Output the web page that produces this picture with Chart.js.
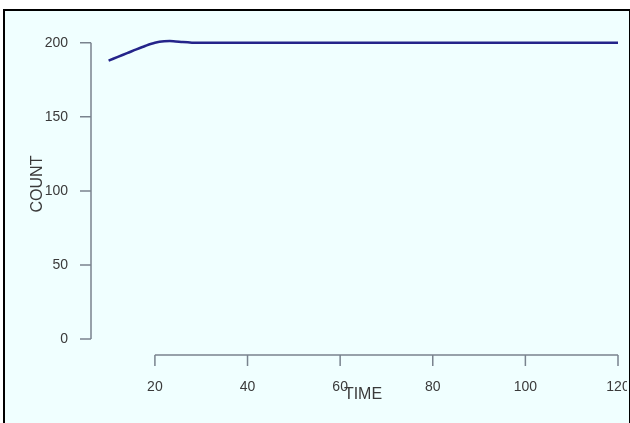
<!DOCTYPE html>
<html>
<head>
<meta charset="utf-8">
<script src="https://cdn.jsdelivr.net/npm/chart.js@4"></script>
<style>
  html, body { margin: 0; padding: 0; background: #ffffff; }
  #frame, #edge {
    position: absolute; left: 3px; top: 9px; width: 624px; height: 420px;
    border: 2px solid #000; border-bottom: none;
  }
  #frame { background: #f0ffff; }
  #edge { background: transparent; pointer-events: none; }
  #wrap { position: absolute; left: 0; top: 0; width: 627px; height: 423px; overflow: hidden; }
</style>
</head>
<body>
<div id="frame"></div>
<div id="wrap"><canvas id="chart" width="630" height="423"></canvas></div>
<div id="edge"></div>
<script>
// data
const times  = [10, 12, 14, 16, 18, 20, 22, 24, 26, 28, 30, 40, 50, 60, 70, 80, 90, 100, 110, 120];
const counts = [188, 190.5, 193, 195.6, 198, 200, 201, 201.1, 200.5, 200.1, 200, 200, 200, 200, 200, 200, 200, 200, 200, 200];
const xTicks = [20, 40, 60, 80, 100, 120];
const yTicks = [0, 50, 100, 150, 200];

const axisColor = '#79838e';
const textColor = '#3a3a3a';
const fontFamily = '"Liberation Sans", Arial, sans-serif';

// R-style detached axes + titles
const axesPlugin = {
    id: 'rAxes',
    afterDraw(chart) {
        const { ctx, chartArea, scales } = chart;
        const x = scales.x, y = scales.y;
        ctx.save();
        ctx.strokeStyle = axisColor;
        ctx.lineWidth = 1.5;

        // y axis
        const yl = chartArea.left;
        ctx.beginPath();
        ctx.moveTo(yl, y.getPixelForValue(yTicks[0]));
        ctx.lineTo(yl, y.getPixelForValue(yTicks[yTicks.length - 1]));
        yTicks.forEach(v => {
            const py = y.getPixelForValue(v);
            ctx.moveTo(yl, py);
            ctx.lineTo(yl - 11, py);
        });
        ctx.stroke();

        // x axis
        const xb = chartArea.bottom;
        ctx.beginPath();
        ctx.moveTo(x.getPixelForValue(xTicks[0]), xb);
        ctx.lineTo(x.getPixelForValue(xTicks[xTicks.length - 1]), xb);
        xTicks.forEach(v => {
            const px = x.getPixelForValue(v);
            ctx.moveTo(px, xb);
            ctx.lineTo(px, xb + 11);
        });
        ctx.stroke();

        // titles
        ctx.fillStyle = textColor;
        ctx.font = '16px ' + fontFamily;
        ctx.textAlign = 'center';
        ctx.textBaseline = 'middle';
        ctx.fillText('TIME', 363, 395);
        ctx.translate(38, 184);
        ctx.rotate(-Math.PI / 2);
        ctx.fillText('COUNT', 0, 0);
        ctx.restore();
    }
};

new Chart(document.getElementById('chart').getContext('2d'), {
    type: 'line',
    data: {
        datasets: [{
            data: times.map((t, i) => ({ x: t, y: counts[i] })),
            borderColor: '#24248a',
            borderWidth: 2.5,
            pointRadius: 0,
            tension: 0.3,
            fill: false
        }]
    },
    options: {
        responsive: false,
        animation: false,
        layout: { padding: { top: 28, right: 12, left: 0, bottom: 0 } },
        plugins: { legend: { display: false }, tooltip: { enabled: false } },
        scales: {
            x: {
                type: 'linear',
                min: 6.2, max: 120,
                grid: { display: false }, border: { display: false },
                afterBuildTicks: s => { s.ticks = xTicks.map(v => ({ value: v })); },
                afterFit: s => { s.height = 68; s.paddingLeft = 0; s.paddingRight = 0; },
                ticks: { padding: 16, color: textColor, font: { family: fontFamily, size: 14 }, maxRotation: 0 }
            },
            y: {
                min: -10.8, max: 210,
                grid: { display: false }, border: { display: false },
                afterBuildTicks: s => { s.ticks = yTicks.map(v => ({ value: v })); },
                afterFit: s => { s.width = 91; s.paddingTop = 0; s.paddingBottom = 0; },
                ticks: { padding: 15, color: textColor, font: { family: fontFamily, size: 14 } }
            }
        }
    },
    plugins: [axesPlugin]
});
</script>
</body>
</html>
